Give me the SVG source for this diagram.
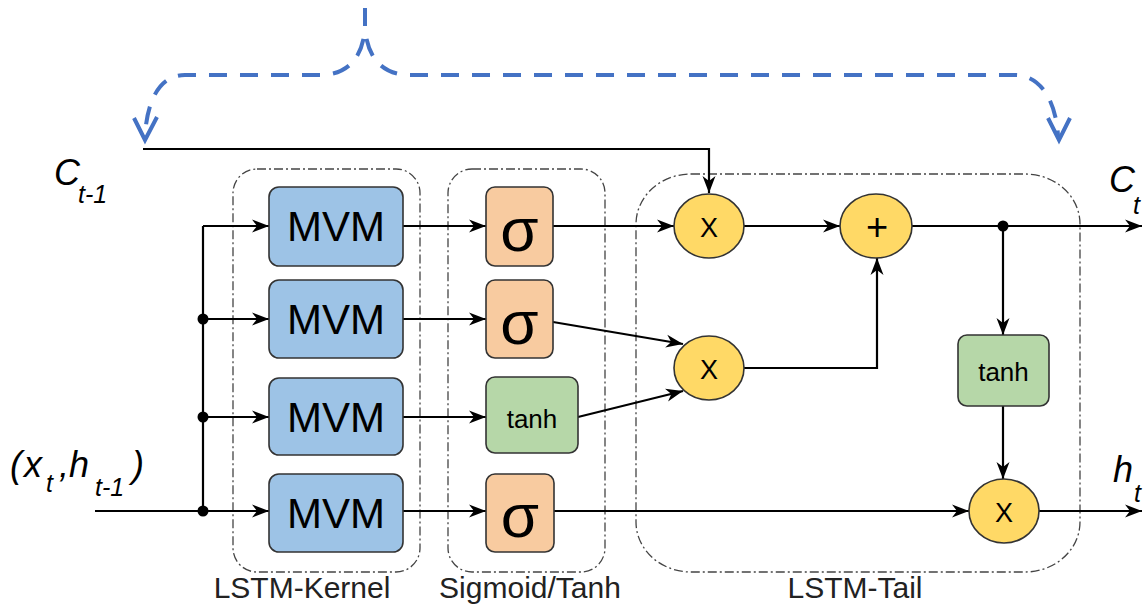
<svg xmlns="http://www.w3.org/2000/svg" width="1143" height="606" viewBox="0 0 1143 606">
  <defs>
    <marker id="arrow" viewBox="0 0 17 14" refX="17" refY="7" markerWidth="17" markerHeight="14" markerUnits="userSpaceOnUse" orient="auto">
      <path d="M0,0.5 L17,7 L0,13.5 L5,7 Z" fill="#000"/>
    </marker>
    <style>
      .wire { fill: none; stroke: #000; stroke-width: 2.2; }
      .arr { marker-end: url(#arrow); }
      .dot { fill: #000; }
      .loop { fill: none; stroke: #4472C4; stroke-width: 4; stroke-dasharray: 18 13; }
      .loophead { fill: none; stroke: #4472C4; stroke-width: 4; stroke-linejoin: miter; }
      .frame { fill: none; stroke: #444; stroke-width: 1.3; stroke-dasharray: 9 3 2 3; }
      .mvm { fill: #9DC3E6; stroke: #333; stroke-width: 1.6; }
      .sig { fill: #F8CBA0; stroke: #333; stroke-width: 1.6; }
      .th { fill: #B6D7A8; stroke: #333; stroke-width: 1.6; }
      .op { fill: #FFD966; stroke: #333; stroke-width: 1.6; }
      .t { font-family: "Liberation Sans", Arial, sans-serif; fill: #000; text-anchor: middle; }
      .mvmt { font-size: 42px; }
      .sigt { font-size: 62px; }
      .tht { font-size: 26px; }
      .opt { font-size: 27px; }
      .plus { font-size: 38px; }
      .lbl { font-family: "Liberation Sans", Arial, sans-serif; font-size: 30px; fill: #222; text-anchor: middle; }
      .math { font-family: "Liberation Sans", Arial, sans-serif; font-style: italic; font-size: 36px; fill: #000; }
      .sub { font-size: 25px; }
    </style>
  </defs>

  <!-- dash-dot stage frames -->
  <g id="stage-kernel">
    <rect class="frame" x="233" y="169" width="187" height="403" rx="24" ry="24"/>
    <text class="lbl" x="302" y="598">LSTM-Kernel</text>
  </g>
  <g id="stage-activation">
    <rect class="frame" x="448" y="169" width="157" height="403" rx="24" ry="24"/>
    <text class="lbl" x="530" y="598">Sigmoid/Tanh</text>
  </g>
  <g id="stage-tail">
    <rect class="frame" x="636" y="174" width="444" height="398" rx="55" ry="50"/>
    <text class="lbl" x="855" y="598">LSTM-Tail</text>
  </g>

  <!-- connectors -->
  <g id="connectors">
    <!-- recurrent feedback brace -->
    <path class="loop" d="M365,8 L365,28 C363,55 350,75 320,75 L185,75 C160,75 147,100 145,136"/>
    <path class="loop" d="M365,8 L365,28 C367,55 380,75 410,75 L1015,75 C1040,75 1056,100 1058,136"/>
    <path class="loophead" d="M134,118 L145,140 L157,117"/>
    <path class="loophead" d="M1048,118 L1059,140 L1070,118"/>

    <!-- cell state input -->
    <path class="wire arr" d="M143,149 H709 V193"/>

    <!-- input bus -->
    <path class="wire" d="M95,511 H203 M203,226 V511"/>
    <path class="wire arr" d="M203,226 H269"/>
    <path class="wire arr" d="M203,319 H269"/>
    <path class="wire arr" d="M203,417 H269"/>
    <path class="wire arr" d="M203,511 H269"/>
    <circle class="dot" cx="203" cy="319" r="5.5"/>
    <circle class="dot" cx="203" cy="417" r="5.5"/>
    <circle class="dot" cx="203" cy="511" r="5.5"/>

    <!-- kernel to activations -->
    <path class="wire arr" d="M403,226 H486"/>
    <path class="wire arr" d="M403,319 H486"/>
    <path class="wire arr" d="M403,417 H486"/>
    <path class="wire arr" d="M403,511 H486"/>

    <!-- tail -->
    <path class="wire arr" d="M553,226 H674"/>
    <path class="wire arr" d="M744,226 H840"/>
    <path class="wire arr" d="M912,226 H1142"/>
    <circle class="dot" cx="1003" cy="226" r="5.5"/>
    <path class="wire arr" d="M1003,226 V335"/>
    <path class="wire arr" d="M1003,406 V479"/>
    <path class="wire arr" d="M1039,511 H1142"/>
    <path class="wire arr" d="M554,511 H969"/>
    <path class="wire arr" d="M553,322 L683,344"/>
    <path class="wire arr" d="M578,417 L683,391"/>
    <path class="wire arr" d="M744,368 H877 V258"/>
  </g>

  <!-- matrix-vector multiply units -->
  <g id="mvm-1"><rect class="mvm" x="269" y="187" width="134" height="79" rx="10"/><text class="t mvmt" x="336" y="241">MVM</text></g>
  <g id="mvm-2"><rect class="mvm" x="269" y="280" width="134" height="78" rx="10"/><text class="t mvmt" x="336" y="334">MVM</text></g>
  <g id="mvm-3"><rect class="mvm" x="269" y="378" width="134" height="77" rx="10"/><text class="t mvmt" x="336" y="432">MVM</text></g>
  <g id="mvm-4"><rect class="mvm" x="269" y="474" width="134" height="78" rx="10"/><text class="t mvmt" x="336" y="528">MVM</text></g>

  <!-- activations -->
  <g id="sigmoid-1"><rect class="sig" x="486" y="187" width="67" height="79" rx="9"/><text class="t sigt" x="519.5" y="251">σ</text></g>
  <g id="sigmoid-2"><rect class="sig" x="486" y="280" width="67" height="78" rx="9"/><text class="t sigt" x="519.5" y="344">σ</text></g>
  <g id="tanh-1"><rect class="th" x="486" y="377" width="92" height="76" rx="9"/><text class="t tht" x="532" y="428">tanh</text></g>
  <g id="sigmoid-3"><rect class="sig" x="486" y="474" width="68" height="78" rx="9"/><text class="t sigt" x="520" y="537">σ</text></g>

  <!-- element-wise operations -->
  <g id="mul-forget"><ellipse class="op" cx="709" cy="226" rx="35" ry="32"/><text class="t opt" x="709" y="237">X</text></g>
  <g id="add-cell"><ellipse class="op" cx="876" cy="226" rx="36" ry="32"/><text class="t plus" x="877" y="240">+</text></g>
  <g id="mul-input"><ellipse class="op" cx="709" cy="368" rx="35" ry="32"/><text class="t opt" x="709" y="379">X</text></g>
  <g id="tanh-2"><rect class="th" x="958" y="335" width="91" height="71" rx="9"/><text class="t tht" x="1003.5" y="381">tanh</text></g>
  <g id="mul-output"><ellipse class="op" cx="1004" cy="511" rx="35" ry="32"/><text class="t opt" x="1004" y="522">X</text></g>

  <!-- signal labels -->
  <g id="label-c-prev">
    <text class="math" y="185"><tspan x="54">C</tspan><tspan class="sub" x="78" y="203">t-1</tspan></text>
  </g>
  <g id="label-input">
    <text class="math" x="10" y="477">(</text>
    <text class="math" x="24" y="477">x</text>
    <text class="math sub" x="46" y="492">t</text>
    <text class="math" x="59" y="477">,</text>
    <text class="math" x="69" y="477">h</text>
    <text class="math sub" x="95" y="496">t-1</text>
    <text class="math" x="132" y="477">)</text>
  </g>
  <g id="label-c">
    <text class="math" y="192"><tspan x="1109">C</tspan><tspan class="sub" x="1133" y="214">t</tspan></text>
  </g>
  <g id="label-h">
    <text class="math" y="482"><tspan x="1113">h</tspan><tspan class="sub" x="1134" y="502">t</tspan></text>
  </g>
</svg>
